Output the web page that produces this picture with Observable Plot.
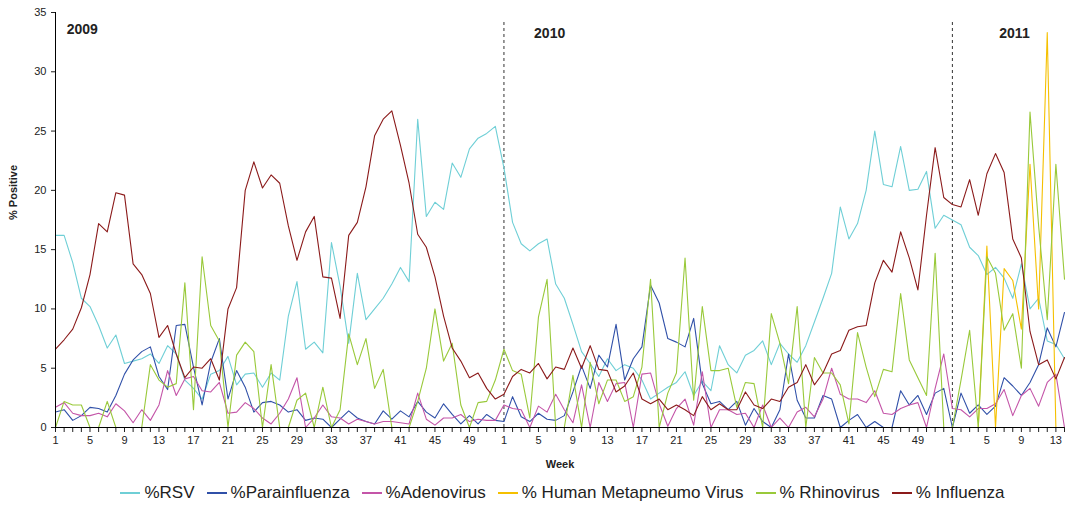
<!DOCTYPE html>
<html>
<head>
<meta charset="utf-8">
<script src="https://cdn.jsdelivr.net/npm/d3@7"></script>
<script src="https://cdn.jsdelivr.net/npm/@observablehq/plot@0.6"></script>
<style>
  body { margin: 0; background: #fff; font-family: Arial, "Liberation Sans", sans-serif; }
  #chart { position: relative; width: 1075px; }
  .legend { display: flex; justify-content: center; gap: 12px; font-size: 17px; color: #222; margin-top: 8px; padding-left: 50px; }
  .legend span { display: inline-flex; align-items: center; }
  .legend b { display: inline-block; width: 20px; height: 1.5px; margin-right: 4px; }
</style>
</head>
<body>
<div id="chart"></div>
<script>
// weekly % positive, 2009 wk1 .. 2011 wk14
const rsv = [16.2,16.2,13.9,10.9,10.2,8.6,6.7,7.8,5.4,5.6, 5.8,6.2,5.4,6.9,6.2,4.0,3.3,2.4,4.5,4.8, 6.0,3.6,4.5,4.6,3.4,4.6,4.0,9.4,12.3,6.6, 7.2,6.3,15.6,11.9,7.1,13.0,9.1,10.0,10.9,12.1, 13.5,12.3,26.0,17.8,19.0,18.4,22.3,21.1,23.5,24.4, 24.8,25.4,
  21.9,17.3,15.5,14.9,15.5,15.9,12.1,10.9,8.7,6.4, 5.4,4.3,5.8,4.8,5.3,5.0,4.0,2.4,2.9,3.4, 3.8,4.7,2.7,3.9,3.1,6.9,5.3,4.6,6.1,6.5, 7.3,5.3,7.1,6.2,5.5,6.9,8.9,10.9,13.0,18.6, 15.9,17.2,20.0,25.0,20.5,20.3,23.7,20.0,20.1,21.6, 16.8,17.9,
  17.5,17.1,15.2,14.5,12.9,13.5,12.6,10.9,13.8,10.0,10.9,7.3,7.0,5.8]
const parainfluenza = [1.3,1.5,0.6,1.0,1.7,1.6,1.3,2.7,4.5,5.7, 6.4,6.8,4.3,3.2,8.6,8.7,5.1,1.9,5.5,7.5, 2.4,4.8,3.4,1.3,2.1,2.2,1.9,1.3,1.5,0.6, 0.8,0.7,0,0.7,1.4,0.8,0.5,0.3,1.4,0.7, 1.4,0.9,2.2,1.3,0.8,2.0,1.1,0.3,1.0,0.3, 1.1,0.6,
  0.5,2.6,0.9,0.5,1.2,0.7,0.6,1.0,3.0,5.2, 3.3,6.1,5.1,8.7,4.0,5.8,6.8,12.0,10.5,7.5, 7.2,6.8,9.2,3.7,2.0,2.2,1.5,2.2,0.2,1.6, 0.5,0,1.5,6.2,2.3,0.8,0.8,2.7,2.4,0, 0.6,1.1,0,0.5,0,0,3.1,1.9,2.7,1.1, 2.9,3.3,
  0,2.9,1.2,1.9,1.1,1.8,4.2,3.5,2.7,3.8,5.3,8.4,6.8,9.7]
const adenovirus = [1.7,2.1,1.2,1.0,1.0,1.2,0.9,2.0,1.4,0.4, 1.5,0.6,1.9,4.8,2.7,4.1,4.3,3.1,3.0,3.8, 1.2,1.3,2.1,1.6,0.8,0.3,1.2,2.4,4.2,0, 0.8,1.9,0.9,0.8,0.3,0.7,0.5,0.3,0.5,0.5, 0.4,0.3,2.9,0.7,0.2,0.8,0.8,1.1,0.5,0.7, 0.6,0.6,
  1.9,1.6,1.5,0,1.8,1.3,2.8,1.5,0.4,3.6, 0,3.8,2.2,3.7,3.8,0,4.5,4.6,2.0,0.1, 1.6,2.4,0.2,4.7,0,1.5,1.5,1.1,1.2,0, 1.9,0,0.8,0,1.3,1.7,0.9,2.4,5.0,2.8, 2.4,2.4,2.1,3.1,1.2,1.1,1.6,1.9,2.1,0, 3.3,6.2,
  1.6,1.5,0.9,1.6,1.6,2.0,3.2,1.0,2.7,3.3,1.8,3.8,4.5,0]
const hmpv = [0,0,0,0,0,0,0,0,0,0, 0,0,0,0,0,0,0,0,0,0, 0,0,0,0,0,0,0,0,0,0, 0,0,0,0,0,0,0,0,0,0, 0,0,0,0,0,0,0,0,0,0, 0,0,
  0,0,0,0,0,0,0,0,0,0, 0,0,0,0,0,0,0,0,0,0, 0,0,0,0,0,0,0,0,0,0, 0,0,0,0,0,0,0,0,0,0, 0,0,0,0,0,0,0,0,0,0, 0,0,
  0,0,0,0,15.3,0,13.4,12.4,8.3,22.2,10.0,33.3,0,0]
const rhinovirus = [0,2.2,1.9,1.9,0,0,2.2,0,0,0, 0,5.3,4.0,3.4,3.7,12.2,1.5,14.4,8.6,7.3, 0,6.1,7.2,6.4,0,5.3,0,0,2.3,2.9, 0,3.4,0,1.5,7.9,5.3,7.5,3.3,4.9,0, 0,0,2.2,5.0,10.0,5.6,7.1,1.9,0,2.1, 2.2,4.0,
  6.6,4.8,4.5,0.8,9.3,12.5,0,0,4.4,0, 5.5,2.0,4.0,4.0,2.2,2.6,5.1,12.5,0,2.9, 4.6,14.3,2.3,10.2,4.8,4.8,5.0,1.7,3.8,3.7, 0,9.6,7.1,3.7,10.2,0,5.9,4.6,4.6,3.6, 0.3,8.0,5.1,2.6,4.9,4.7,11.3,5.7,4.2,2.7, 14.7,0,
  0,4.0,8.2,0,14.4,13.0,8.2,9.6,5.0,26.6,17.0,9.1,22.2,12.5]
const influenza = [6.6,7.4,8.3,10.1,12.9,17.2,16.5,19.8,19.6,13.8, 12.9,11.3,7.6,8.6,6.2,4.2,5.1,5.0,5.8,4.0, 10.0,11.8,20.0,22.4,20.2,21.3,20.6,17.0,14.1,16.5, 17.8,12.7,12.6,9.2,16.2,17.3,20.3,24.6,26.0,26.7, 23.8,20.6,16.3,15.2,12.7,9.4,6.7,5.6,4.2,4.6, 3.3,2.4,
  2.8,4.3,4.9,4.6,5.4,4.1,5.1,4.9,6.7,5.0, 6.9,4.9,4.8,3.0,3.5,4.6,2.4,2.0,2.4,1.5, 1.9,1.5,1.0,2.6,1.5,2.0,1.5,1.5,3.0,1.9, 1.6,2.4,2.2,3.4,3.8,5.3,3.6,4.6,6.2,6.5, 8.2,8.5,8.6,12.2,14.1,13.1,16.5,14.3,11.6,17.9, 23.6,19.4,
  18.8,18.6,20.9,17.9,21.4,23.1,21.5,15.9,14.3,8.1,5.3,5.7,4.1,5.9]

const seriesNames = ["%RSV", "%Parainfluenza", "%Adenovirus", "% Human Metapneumo Virus", "% Rhinovirus", "% Influenza"]
const seriesColors = ["#6fcfd6", "#3050a8", "#c455a8", "#f5c000", "#99c93a", "#8b1a1a"]
const seriesValues = [rsv, parainfluenza, adenovirus, hmpv, rhinovirus, influenza]
const yearStarts = [52, 104]
const firstYear = [{i: 1.3, v: 33.6, t: "2009"}]
const otherYears = [{i: 57.3, v: 33.2, t: "2010"}, {i: 111.2, v: 33.2, t: "2011"}]

const weekOf = i => i < 52 ? i + 1 : i < 104 ? i - 51 : i - 103
const rows = seriesNames.flatMap((name, s) => seriesValues[s].map((v, i) => ({name, i, v})))
const idx = d3.range(rsv.length)

const chart = Plot.plot({
  width: 1075, height: 475,
  marginLeft: 55, marginRight: 11, marginTop: 12, marginBottom: 48,
  style: {fontFamily: "Arial, 'Liberation Sans', sans-serif", fontSize: "11px", color: "#222"},
  x: {domain: [0, idx.length - 1], axis: null},
  y: {domain: [0, 35], axis: null},
  color: {domain: seriesNames, range: seriesColors},
  marks: [
    Plot.axisY({ticks: d3.range(0, 36, 5), tickSize: 4, label: null, fontSize: 11}),
    Plot.text(["% Positive"], {frameAnchor: "left", dx: -42, rotate: -90, fontWeight: "bold", fontSize: 11}),
    Plot.ruleX(yearStarts, {y1: 0, y2: 34.3, stroke: "#333", strokeDasharray: "3,3"}),
    Plot.lineY(rows, {x: "i", y: "v", z: "name", stroke: "name", strokeWidth: 1.1}),
    Plot.axisX({ticks: idx, tickSize: 5, tickFormat: i => (weekOf(i) - 1) % 4 === 0 ? weekOf(i) : "", label: null, fontSize: 11, tickPadding: 4}),
    Plot.ruleY([0], {stroke: "#000"}),
    Plot.ruleX([0], {y1: 0, y2: 35, stroke: "#000"}),
    Plot.text(firstYear, {x: "i", y: "v", text: "t", textAnchor: "start", fontWeight: "bold", fontSize: 14}),
    Plot.text(otherYears, {x: "i", y: "v", text: "t", fontWeight: "bold", fontSize: 14}),
    Plot.text(["Week"], {frameAnchor: "bottom", dy: 40, fontWeight: "bold", fontSize: 11})
  ]
})
document.getElementById("chart").append(chart)

const legend = d3.select("#chart").append("div").attr("class", "legend")
seriesNames.forEach((n, k) => {
  const s = legend.append("span")
  s.append("b").style("background", seriesColors[k])
  s.append("span").text(n)
})
</script>
</body>
</html>
